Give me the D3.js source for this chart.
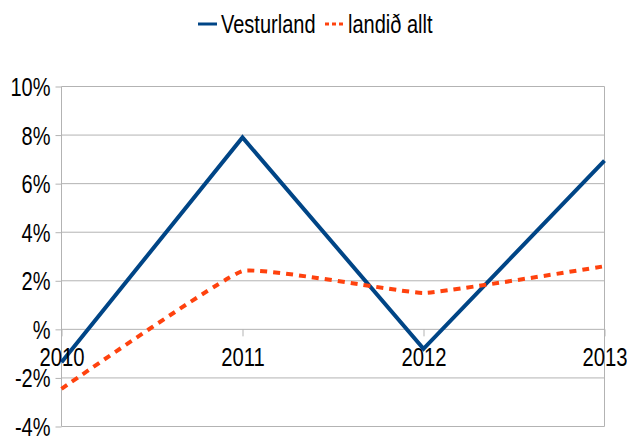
<!DOCTYPE html>
<html>
<head>
<meta charset="utf-8">
<script src="https://cdn.jsdelivr.net/npm/d3@7"></script>
<style>
  body { margin: 0; background: #fff; }
  text { font-family: "Liberation Sans Narrow", "Liberation Sans", sans-serif; fill: #000; }
</style>
</head>
<body>
<svg id="chart" width="627" height="437"></svg>
<script>
// chart data
const years = ["2010", "2011", "2012", "2013"];
const vesturland = [-1.35, 7.9, -0.8, 6.95];
const landidAllt = [-2.45, 2.4, 1.5, 2.6];
const yTicks = [-4, -2, 0, 2, 4, 6, 8, 10];
const yLabels = ["-4%", "-2%", "%", "2%", "4%", "6%", "8%", "10%"];
const seriesNames = ["Vesturland", "landið allt"];

const svg = d3.select("#chart");
const margin = { top: 86.5, left: 61.5, right: 22.5, bottom: 10.5 };
const width = 627 - margin.left - margin.right;
const height = 437 - margin.top - margin.bottom;
const g = svg.append("g").attr("transform", `translate(${margin.left},${margin.top})`);

const x = d3.scalePoint().domain(years).range([0, width]);
const y = d3.scaleLinear().domain([-4, 10]).range([height, 0]);

// squeeze text to look like the narrow font of the original
function narrow(sel, k) {
  sel.each(function() {
    const w = this.getComputedTextLength();
    d3.select(this)
      .attr("textLength", w * k)
      .attr("lengthAdjust", "spacingAndGlyphs");
  });
}

// gridlines
g.selectAll(".grid")
  .data(yTicks)
  .enter()
  .append("line")
  .attr("x1", 0)
  .attr("x2", width)
  .attr("y1", d => y(d))
  .attr("y2", d => y(d))
  .attr("stroke", "#b3b3b3")
  .attr("stroke-width", 1);

// plot borders left and right
g.append("line").attr("x1", 0).attr("x2", 0).attr("y1", 0).attr("y2", height)
  .attr("stroke", "#b3b3b3");
g.append("line").attr("x1", width).attr("x2", width).attr("y1", 0).attr("y2", height)
  .attr("stroke", "#b3b3b3");

// lines
const lineStraight = d3.line()
  .x((d, i) => x(years[i]))
  .y(d => y(d));
const lineSmooth = d3.line()
  .x((d, i) => x(years[i]))
  .y(d => y(d))
  .curve(d3.curveCardinal.tension(0.7));

g.append("path")
  .attr("d", lineStraight(vesturland))
  .attr("fill", "none")
  .attr("stroke", "#004586")
  .attr("stroke-width", 4);

g.append("path")
  .attr("d", lineSmooth(landidAllt))
  .attr("fill", "none")
  .attr("stroke", "#ff420e")
  .attr("stroke-width", 4)
  .attr("stroke-dasharray", "7,6");

// y axis
const yAxis = g.append("g")
  .call(d3.axisLeft(y).tickValues(yTicks).tickSize(6).tickPadding(5)
    .tickFormat((d, i) => yLabels[i]));
yAxis.select(".domain").remove();
yAxis.selectAll("line").attr("stroke", "#b3b3b3");
yAxis.selectAll("text")
  .attr("font-family", null)
  .style("font-size", "25px")
  .attr("dy", "0.36em")
  .call(narrow, 0.8);

// x axis placed on the zero line
const xAxis = g.append("g")
  .attr("transform", `translate(0,${y(0)})`)
  .call(d3.axisBottom(x).tickSize(7).tickPadding(12));
xAxis.select(".domain").remove();
xAxis.selectAll("line").attr("stroke", "#b3b3b3");
xAxis.selectAll("text")
  .attr("font-family", null)
  .style("font-size", "25px")
  .call(narrow, 0.81);

// legend
const legend = svg.append("g");
legend.append("line")
  .attr("x1", 198).attr("x2", 217).attr("y1", 24).attr("y2", 24)
  .attr("stroke", "#004586").attr("stroke-width", 3);
legend.append("text")
  .attr("x", 221).attr("y", 33)
  .style("font-size", "25px")
  .text(seriesNames[0])
  .call(narrow, 0.8);
legend.append("line")
  .attr("x1", 325).attr("x2", 344).attr("y1", 24).attr("y2", 24)
  .attr("stroke", "#ff420e").attr("stroke-width", 3)
  .attr("stroke-dasharray", "4,3");
legend.append("text")
  .attr("x", 348).attr("y", 33)
  .style("font-size", "25px")
  .text(seriesNames[1])
  .call(narrow, 0.8);
</script>
</body>
</html>
